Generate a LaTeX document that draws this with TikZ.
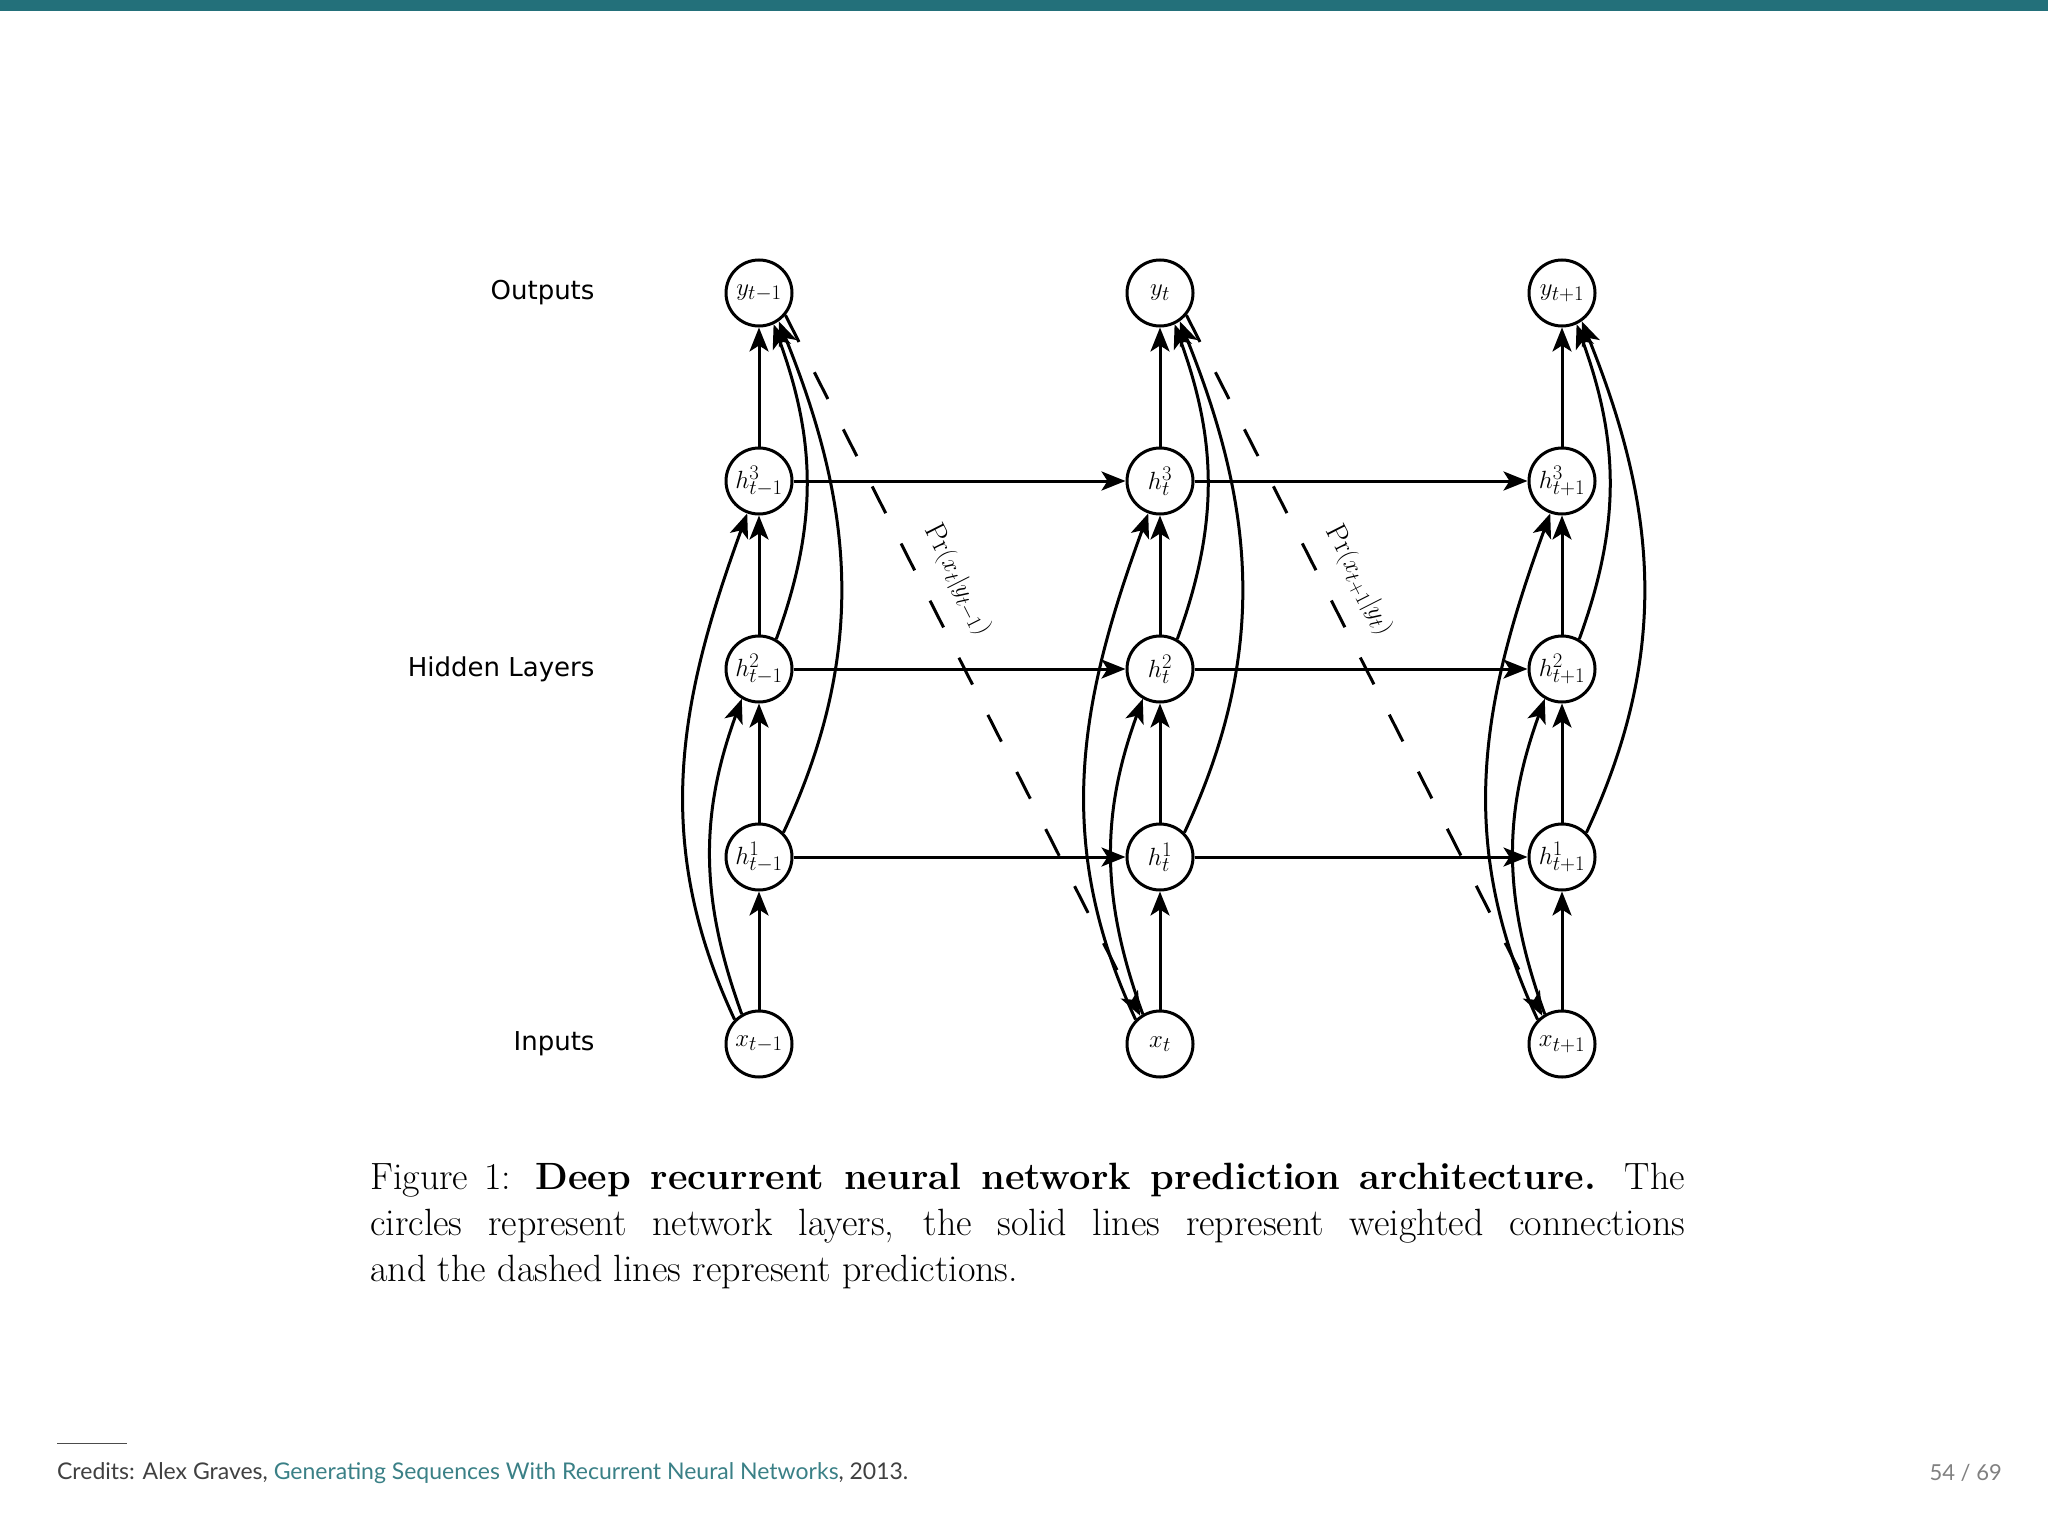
\documentclass[tikz,border=0pt]{standalone}
\usepackage{fontspec}
\newfontfamily\lato{Lato}
\newfontfamily\djs{DejaVu Sans}
\usetikzlibrary{arrows.meta}
\definecolor{teal1}{HTML}{23707A}
\definecolor{linkc}{HTML}{3A8086}
\begin{document}
\begin{tikzpicture}[x=1pt,y=-1pt,
  unit/.style={circle,draw,line width=3pt,minimum size=66pt,inner sep=0pt,font=\fontsize{32}{34}\selectfont},
  con/.style={line width=3pt,-{Stealth[length=24pt,width=19pt,inset=6pt]}},
  pred/.style={con,dash pattern=on 30pt off 34pt},
  plbl/.style={pos=0.4,sloped,above=16pt,font=\fontsize{29}{32}\selectfont},
  lbl/.style={anchor=east,font=\djs\fontsize{26}{30}\selectfont}]
\useasboundingbox (0,0) rectangle (2048,1533);
\fill[teal1] (0,0) rectangle (2048,11);
\node[lbl] (lo) at (598,293) {Outputs};
\node[lbl] (lh) at (598,669) {Hidden Layers};
\node[lbl] (li) at (598,1044) {Inputs};
\foreach \c/\x/\s in {a/759/{t-1},b/1160/{t},c/1562/{t+1}}{
  \node[unit] (y\c) at (\x,293) {$y_{\s}$};
  \node[unit] (h3\c) at (\x,481) {$h^3_{\s}$};
  \node[unit] (h2\c) at (\x,669) {$h^2_{\s}$};
  \node[unit] (h1\c) at (\x,857) {$h^1_{\s}$};
  \node[unit] (x\c) at (\x,1044) {$x_{\s}$};
  \draw[con] (x\c) -- (h1\c);
  \draw[con] (h1\c) -- (h2\c);
  \draw[con] (h2\c) -- (h3\c);
  \draw[con] (h3\c) -- (y\c);
  \draw[con] (x\c.120) to[out=110,in=-110] (h2\c.240);
  \draw[con] (x\c.135) to[out=115,in=-110] (h3\c.250);
  \draw[con] (h2\c.60) to[out=70,in=-70] (y\c.295);
  \draw[con] (h1\c.45) to[out=65,in=-68] (y\c.305);
}
\foreach \p/\q in {a/b,b/c}{
  \draw[con] (h1\p) -- (h1\q);
  \draw[con] (h2\p) -- (h2\q);
  \draw[con] (h3\p) -- (h3\q);
}
\draw[pred] (ya.-40) -- node[plbl] (pa) {$\Pr(x_t|y_{t-1})$} (xb.125);
\draw[pred] (yb.-40) -- node[plbl] (pb) {$\Pr(x_{t+1}|y_t)$} (xc.125);
\node[anchor=north west,text width=1315pt,align=justify,inner sep=0pt,font=\fontsize{38}{46}\selectfont] (cap) at (370,1163)
 {Figure 1: \textbf{Deep recurrent neural network prediction architecture.} The\linebreak circles represent network layers, the solid lines represent weighted connections\linebreak and the dashed lines represent predictions.};
\draw[line width=1pt,black!70] (57,1443) -- (127,1443);
\node[anchor=west,inner sep=0pt,font=\lato\fontsize{23}{27}\selectfont,text=black!75] (cr) at (57,1473) {Credits: Alex Graves, \textcolor{linkc}{Generating Sequences With Recurrent Neural Networks}, 2013.};
\node[anchor=east,inner sep=0pt,font=\lato\fontsize{22}{26}\selectfont,text=black!50] (pg) at (2002,1473) {54 / 69};
\end{tikzpicture}
\end{document}
